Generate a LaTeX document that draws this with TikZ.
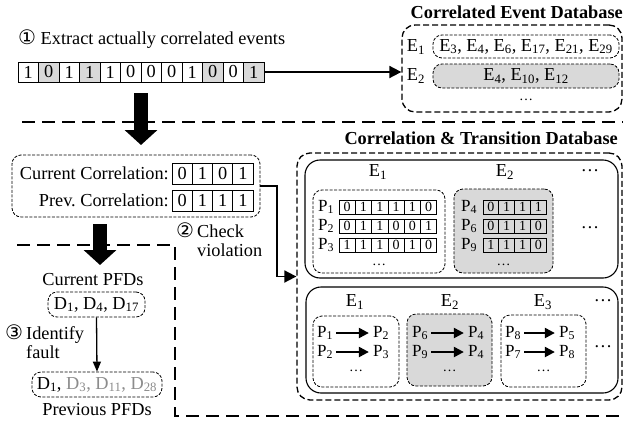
\documentclass[tikz,border=0pt]{standalone}
\usepackage{fontspec}
\setmainfont{Liberation Serif}
\newfontfamily\circfont{DejaVu Sans}
\usetikzlibrary{arrows.meta,calc}
\definecolor{cellgray}{HTML}{D9D9D9}
\definecolor{txtgray}{HTML}{8C8C8C}
\newcommand{\subs}[1]{\textsubscript{#1}}
\newcommand{\cnum}[1]{{\circfont\fontsize{20}{18}\selectfont #1}}
\newcommand{\bitrow}[5]{\foreach \b [count=\i] in {#5} \node[smcell, minimum width=#4pt] (#1\i) at ({#2+#4*\i-#4/2},#3) {\b};}
\begin{document}
\begin{tikzpicture}[x=1pt,y=-1pt,
  font=\fontsize{18.3}{21}\selectfont,
  sepline/.style={line width=2pt, dash pattern=on 13pt off 7pt},
  obox/.style={draw, line width=1.3pt, dash pattern=on 6pt off 3pt, rounded corners=13pt, inner sep=0pt},
  ibox/.style={draw, line width=0.8pt, dash pattern=on 3pt off 1.5pt, rounded corners=9pt, inner sep=0pt},
  sbox/.style={draw, line width=1.1pt, rounded corners=15pt, inner sep=0pt},
  bigcell/.style={draw, line width=0.9pt, minimum width=20.5pt, minimum height=20pt, inner sep=0pt},
  midcell/.style={draw, line width=0.9pt, minimum width=20.25pt, minimum height=21pt, inner sep=0pt},
  smcell/.style={draw, line width=0.8pt, minimum height=14pt, inner sep=0pt, font=\fontsize{14}{15}\selectfont},
  lbl/.style={inner sep=1pt},
  dotlbl/.style={inner sep=0pt},
  sdot/.style={inner sep=0pt, font=\fontsize{14}{15}\selectfont},
  plbl/.style={inner sep=1pt, font=\fontsize{17}{19}\selectfont},
  conn/.style={line width=1.8pt, -{Triangle[length=12pt,width=12pt]}},
  tarrow/.style={line width=2.2pt, -{Triangle[length=10pt,width=10pt]}, shorten <=2pt, shorten >=3pt},
  thinarrow/.style={line width=1.3pt, -{Triangle[length=10pt,width=8pt]}},
  blockarrow/.style={line width=14pt, -{Triangle[length=15pt,width=32pt]}},
  title/.style={font=\fontsize{18.3}{21}\selectfont\bfseries, inner sep=0pt}
]
\useasboundingbox (0,0) rectangle (623,423);

% separators
\coordinate (s1a) at (22,122);
\coordinate (s1b) at (623,122);
\draw[sepline] (s1a) -- (s1b);
\coordinate (s2a) at (17,245);
\coordinate (s2b) at (175,245);
\coordinate (s2c) at (175,416);
\coordinate (s2d) at (623,416);
\draw[sepline] (s2a) -- (s2b) -- (s2c) -- (s2d);

% step 1
\node[anchor=west, inner sep=0pt] (t1) at (18,39) {\cnum{①} Extract actually correlated events};
\foreach \b/\f [count=\i] in {1/white,0/cellgray,1/white,1/cellgray,1/white,0/white,0/white,0/white,1/white,0/cellgray,0/white,1/cellgray}
  \node[bigcell, fill=\f] (a\i) at ({18+20.5*\i-10.25},72) {\b};

% correlated event database
\node[title, anchor=east] (cedbt) at (623,12) {Correlated Event Database};
\node[obox, minimum width=220pt, minimum height=87pt] (cedb) at (512,68.5) {};
\node[lbl] (e1) at (416,47) {E\subs{1}};
\node[lbl] (e2) at (416,76) {E\subs{2}};
\node[ibox, minimum width=186pt, minimum height=23pt] (r1) at (526,46.5) {E\subs{3}, E\subs{4}, E\subs{6}, E\subs{17}, E\subs{21}, E\subs{29}};
\node[ibox, fill=cellgray, minimum width=186pt, minimum height=24pt] (r2) at (526,76) {E\subs{4}, E\subs{10}, E\subs{12}};
\node[sdot] (cdots) at (526,100) {\dots};
\draw[conn] (a12.east) -- (a12.east -| cedb.west);

% block arrow 1
\coordinate (ba1s) at (141,93);
\coordinate (ba1e) at (141,145);
\draw[blockarrow] (ba1s) -- (ba1e);

% correlation box
\node[ibox, minimum width=248pt, minimum height=62pt] (corr) at (136,186) {};
\node[anchor=east, inner sep=0pt] (curl) at (169,173.5) {Current Correlation:};
\node[anchor=east, inner sep=0pt] (prevl) at (169,200.5) {Prev.\ Correlation:};
\foreach \b [count=\i] in {0,1,0,1}
  \node[midcell] (c\i) at ({172+20.25*\i-10.125},173.5) {\b};
\foreach \b [count=\i] in {0,1,1,1}
  \node[midcell] (p\i) at ({172+20.25*\i-10.125},200.5) {\b};

% check violation
\node[anchor=north west, inner sep=0pt] (chk) at (176,223) {\begin{tabular}{@{}l@{\,}l@{}}\cnum{②} & Check\\[-2pt] & violation\end{tabular}};

% block arrow 2
\coordinate (ba2s) at (100,224);
\coordinate (ba2e) at (100,265);
\draw[blockarrow] (ba2s) -- (ba2e);

% PFDs
\node[inner sep=0pt] (curpfd) at (93,280) {Current PFDs};
\node[ibox, minimum width=97pt, minimum height=25pt] (cur) at (96.5,304.5) {D\subs{1}, D\subs{4}, D\subs{17}};
\node[ibox, minimum width=130pt, minimum height=25pt] (prev) at (97,384.5) {D\subs{1}, \textcolor{txtgray}{D\subs{3}, D\subs{11}, D\subs{28}}};
\node[inner sep=0pt] (prevpfd) at (97,410) {Previous PFDs};
\draw[thinarrow] (cur.south) -- (prev.north);
\node[anchor=north west, inner sep=0pt] (idf) at (5,325) {\begin{tabular}{@{}l@{\,}l@{}}\cnum{③} & Identify\\[-2pt] & fault\end{tabular}};

% correlation & transition database
\node[title, anchor=east] (ctdbt) at (618,138) {Correlation \& Transition Database};
\node[obox, minimum width=325pt, minimum height=247pt] (ctdb) at (459.5,276.5) {};
\coordinate (bend) at (277,186);
\draw[conn] (corr.east) -- (bend) |- (ctdb.west);

% box 1: correlations
\node[sbox, minimum width=313pt, minimum height=118pt] (bx1) at (461.5,219) {};
\node[lbl] (h11) at (378,172) {E\subs{1}};
\node[lbl] (h12) at (505,172) {E\subs{2}};
\node[dotlbl] (h13) at (590,171) {\dots};
\node[ibox, minimum width=132pt, minimum height=83pt] (b1a) at (379,231.5) {};
\node[ibox, fill=cellgray, minimum width=99pt, minimum height=84pt] (b1b) at (503.5,231) {};
\node[plbl] (q1) at (326,207) {P\subs{1}};
\node[plbl] (q2) at (326,226) {P\subs{2}};
\node[plbl] (q3) at (326,245) {P\subs{3}};
\bitrow{ua}{339}{207}{16.3}{0,1,1,1,1,0}
\bitrow{ub}{339}{226}{16.3}{0,1,1,0,0,1}
\bitrow{uc}{339}{245}{16.3}{1,1,1,0,1,0}
\node[sdot] (d1a) at (379,265) {\dots};
\node[plbl] (q4) at (469,207) {P\subs{4}};
\node[plbl] (q6) at (469,226) {P\subs{6}};
\node[plbl] (q9) at (469,245) {P\subs{9}};
\bitrow{va}{483}{207}{15.8}{0,1,1,1}
\bitrow{vb}{483}{226}{15.8}{0,1,1,0}
\bitrow{vc}{483}{245}{15.8}{1,1,1,0}
\node[sdot] (d1b) at (503.5,265) {\dots};
\node[dotlbl] (d1c) at (590,228) {\dots};

% box 2: transitions
\node[sbox, minimum width=312pt, minimum height=106pt] (bx2) at (462,340) {};
\node[lbl] (h21) at (355,302) {E\subs{1}};
\node[lbl] (h22) at (450,302) {E\subs{2}};
\node[lbl] (h23) at (543,302) {E\subs{3}};
\node[dotlbl] (h24) at (603,301) {\dots};
\node[ibox, minimum width=86pt, minimum height=71pt] (b2a) at (356,351.5) {};
\node[ibox, fill=cellgray, minimum width=85pt, minimum height=72pt] (b2b) at (449.5,350) {};
\node[ibox, minimum width=85pt, minimum height=72pt] (b2c) at (543.5,351) {};
% left
\node[plbl] (m1) at (325,333) {P\subs{1}};
\node[plbl] (m2) at (381,333) {P\subs{2}};
\node[plbl] (m3) at (325,352) {P\subs{2}};
\node[plbl] (m4) at (381,352) {P\subs{3}};
\draw[tarrow] (m1.east) -- (m2.west);
\draw[tarrow] (m3.east) -- (m4.west);
\node[sdot] (d2a) at (356,371) {\dots};
% middle
\node[plbl] (n1) at (420,333) {P\subs{6}};
\node[plbl] (n2) at (476,333) {P\subs{4}};
\node[plbl] (n3) at (420,352) {P\subs{9}};
\node[plbl] (n4) at (476,352) {P\subs{4}};
\draw[tarrow] (n1.east) -- (n2.west);
\draw[tarrow] (n3.east) -- (n4.west);
\node[sdot] (d2b) at (449.5,371) {\dots};
% right
\node[plbl] (o1) at (513,333) {P\subs{8}};
\node[plbl] (o2) at (567,333) {P\subs{5}};
\node[plbl] (o3) at (513,352) {P\subs{7}};
\node[plbl] (o4) at (567,352) {P\subs{8}};
\draw[tarrow] (o1.east) -- (o2.west);
\draw[tarrow] (o3.east) -- (o4.west);
\node[sdot] (d2c) at (543.5,371) {\dots};
\node[dotlbl] (d2d) at (603,347) {\dots};
\end{tikzpicture}
\end{document}
